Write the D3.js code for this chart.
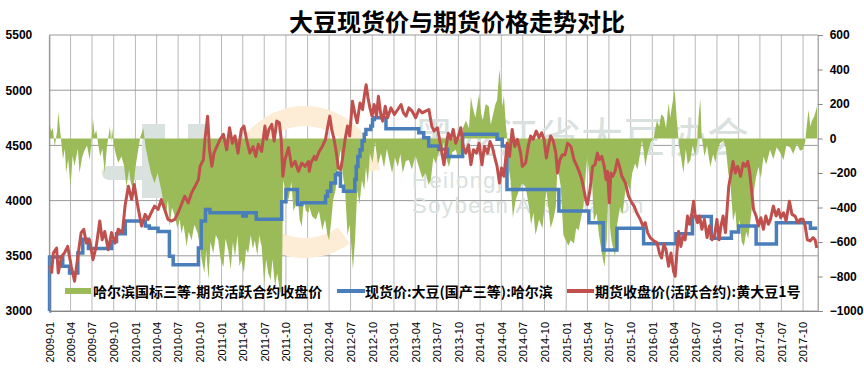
<!DOCTYPE html>
<html>
<head>
<meta charset="utf-8">
<script src="https://cdn.jsdelivr.net/npm/d3@7"></script>
<style>
  body { margin: 0; background: #fff; }
</style>
</head>
<body>
<div id="chart"></div>
<script>

// ---- data ----
var chartTitle = "大豆现货价与期货价格走势对比";
var seriesNames = ["哈尔滨国标三等-期货活跃合约收盘价", "现货价:大豆(国产三等):哈尔滨", "期货收盘价(活跃合约):黄大豆1号"];

var quarterTicks = ["2009-01","2009-04","2009-07","2009-10","2010-01","2010-04","2010-07","2010-10",
  "2011-01","2011-04","2011-07","2011-10","2012-01","2012-04","2012-07","2012-10",
  "2013-01","2013-04","2013-07","2013-10","2014-01","2014-04","2014-07","2014-10",
  "2015-01","2015-04","2015-07","2015-10","2016-01","2016-04","2016-07","2016-10",
  "2017-01","2017-04","2017-07","2017-10"];
var leftTicks = [3000, 3500, 4000, 4500, 5000, 5500];
var rightTicks = [-1000, -800, -600, -400, -200, 0, 200, 400, 600];

// spot price, Harbin (step series: date where the price changes, new price)
var spot = [["2009-01-01",3000],["2009-01-02",3490],["2009-02-27",3405],["2009-03-28",3345],["2009-05-02",3525],
  ["2009-05-23",3650],["2009-06-16",3565],["2009-09-22",3630],["2009-10-13",3700],["2009-11-19",3815],
  ["2010-02-12",3770],["2010-03-01",3750],["2010-04-07",3720],["2010-05-25",3495],["2010-06-10",3420],
  ["2010-09-25",3570],["2010-10-07",3815],["2010-10-25",3920],["2010-11-13",3890],["2011-04-01",3860],
  ["2011-04-16",3890],["2011-05-28",3830],["2011-09-13",3990],["2011-10-01",4100],["2011-11-19",3965],
  ["2011-12-07",3980],["2012-03-17",4040],["2012-03-25",4085],["2012-04-08",4160],["2012-04-28",4235],
  ["2012-05-07",4250],["2012-05-19",4130],["2012-06-01",4085],["2012-07-19",4190],["2012-07-25",4310],
  ["2012-08-01",4400],["2012-08-10",4460],["2012-08-19",4540],["2012-08-28",4600],["2012-09-04",4645],
  ["2012-09-25",4675],["2012-10-02",4735],["2012-10-10",4750],["2012-11-28",4650],["2013-04-16",4615],
  ["2013-05-07",4570],["2013-05-28",4495],["2013-07-10",4465],["2013-08-16",4400],["2013-10-19",4600],
  ["2014-03-14",4555],["2014-04-05",4495],["2014-04-25",4100],["2014-12-01",3905],["2015-04-07",3800],
  ["2015-06-07",3553],["2015-08-04",3750],["2015-11-25",3610],["2016-04-10",3700],["2016-06-19",3855],
  ["2016-09-07",3660],["2016-12-01",3715],["2017-01-01",3770],["2017-03-16",3607],["2017-06-10",3800],
  ["2017-11-01",3750],["2017-11-30",3750]];

// futures close, soybean No.1 active contract
var futures = [["2009-01-02",3405],["2009-01-11",3350],["2009-01-18",3525],["2009-02-01",3570],["2009-02-08",3345],
  ["2009-02-22",3495],["2009-03-06",3525],["2009-03-20",3585],["2009-04-04",3405],["2009-04-18",3270],
  ["2009-05-02",3495],["2009-05-16",3710],["2009-05-27",3740],["2009-06-07",3615],["2009-06-21",3645],
  ["2009-07-05",3465],["2009-07-19",3585],["2009-08-03",3815],["2009-08-13",3645],["2009-08-24",3720],
  ["2009-09-08",3555],["2009-09-22",3710],["2009-10-06",3615],["2009-10-20",3740],["2009-11-07",3710],
  ["2009-11-18",3950],["2009-12-02",4130],["2009-12-16",4010],["2009-12-27",4145],["2010-01-11",3950],
  ["2010-01-27",3770],["2010-02-11",3875],["2010-02-24",3830],["2010-03-09",3890],["2010-03-23",3950],
  ["2010-04-07",3920],["2010-04-21",4010],["2010-05-05",3920],["2010-05-19",3830],["2010-06-03",3815],
  ["2010-06-17",3830],["2010-07-01",3890],["2010-07-15",3965],["2010-07-29",4040],["2010-08-13",3980],
  ["2010-08-27",4070],["2010-09-11",4130],["2010-09-25",4190],["2010-10-02",4310],["2010-10-16",4370],
  ["2010-10-23",4555],["2010-11-03",4765],["2010-11-11",4460],["2010-11-21",4310],["2010-11-30",4430],
  ["2010-12-12",4490],["2010-12-26",4555],["2011-01-09",4600],["2011-01-23",4460],["2011-02-04",4660],
  ["2011-02-16",4520],["2011-02-27",4585],["2011-03-12",4430],["2011-03-26",4645],["2011-04-06",4675],
  ["2011-04-17",4555],["2011-05-01",4430],["2011-05-15",4490],["2011-05-26",4400],["2011-06-06",4510],
  ["2011-06-20",4445],["2011-07-04",4675],["2011-07-11",4555],["2011-07-21",4645],["2011-08-02",4690],
  ["2011-08-12",4540],["2011-08-23",4720],["2011-09-03",4705],["2011-09-11",4555],["2011-09-18",4220],
  ["2011-09-27",4370],["2011-10-12",4480],["2011-10-25",4310],["2011-11-09",4355],["2011-11-23",4265],
  ["2011-12-07",4340],["2011-12-21",4310],["2012-01-05",4355],["2012-01-08",4265],["2012-01-15",4340],
  ["2012-01-29",4400],["2012-02-05",4370],["2012-02-19",4445],["2012-03-03",4490],["2012-03-17",4555],
  ["2012-03-24",4645],["2012-04-04",4765],["2012-04-12",4645],["2012-04-22",4555],["2012-05-02",4430],
  ["2012-05-10",4295],["2012-05-20",4280],["2012-05-27",4370],["2012-06-08",4555],["2012-06-18",4675],
  ["2012-06-27",4585],["2012-07-09",4900],["2012-07-20",4780],["2012-07-29",4705],["2012-08-10",4885],
  ["2012-08-21",4825],["2012-08-28",4945],["2012-09-05",5050],["2012-09-13",4930],["2012-09-21",4840],
  ["2012-09-30",4765],["2012-10-09",4870],["2012-10-19",4765],["2012-10-27",4945],["2012-11-07",4765],
  ["2012-11-14",4720],["2012-11-25",4855],["2012-12-05",4750],["2012-12-19",4840],["2013-01-03",4780],
  ["2013-01-17",4825],["2013-01-31",4870],["2013-02-10",4795],["2013-02-21",4765],["2013-03-05",4840],
  ["2013-03-19",4810],["2013-04-03",4750],["2013-04-17",4825],["2013-05-01",4795],["2013-05-15",4810],
  ["2013-05-29",4825],["2013-06-10",4675],["2013-06-20",4630],["2013-07-04",4660],["2013-07-13",4555],
  ["2013-07-24",4420],["2013-08-01",4325],["2013-08-08",4460],["2013-08-19",4610],["2013-08-29",4555],
  ["2013-09-09",4645],["2013-09-20",4520],["2013-10-01",4585],["2013-10-11",4660],["2013-10-21",4490],
  ["2013-11-02",4430],["2013-11-13",4505],["2013-11-23",4325],["2013-12-04",4460],["2013-12-17",4430],
  ["2013-12-28",4520],["2014-01-09",4325],["2014-01-19",4490],["2014-02-02",4430],["2014-02-12",4535],
  ["2014-02-23",4475],["2014-03-05",4385],["2014-03-14",4310],["2014-03-24",4160],["2014-04-02",4295],
  ["2014-04-12",4220],["2014-04-19",4370],["2014-04-26",4520],["2014-05-06",4400],["2014-05-17",4645],
  ["2014-05-28",4490],["2014-06-08",4555],["2014-06-22",4430],["2014-06-29",4310],["2014-07-13",4340],
  ["2014-07-24",4490],["2014-08-03",4585],["2014-08-14",4555],["2014-08-27",4630],["2014-09-08",4570],
  ["2014-09-19",4615],["2014-09-29",4555],["2014-10-09",4385],["2014-10-17",4490],["2014-10-27",4585],
  ["2014-11-07",4540],["2014-11-18",4430],["2014-11-25",4250],["2014-12-05",4370],["2014-12-16",4415],
  ["2014-12-27",4415],["2015-01-07",4520],["2015-01-21",4490],["2015-02-03",4370],["2015-02-16",4310],
  ["2015-02-27",4250],["2015-03-08",4190],["2015-03-17",4100],["2015-03-25",4010],["2015-04-01",3965],
  ["2015-04-12",4100],["2015-04-23",4310],["2015-05-03",4325],["2015-05-13",4430],["2015-05-21",4370],
  ["2015-06-01",4400],["2015-06-11",4310],["2015-06-19",4190],["2015-06-25",4265],["2015-07-03",3980],
  ["2015-07-09",4250],["2015-07-17",4220],["2015-07-27",4265],["2015-08-06",4370],["2015-08-15",4310],
  ["2015-08-25",4220],["2015-09-09",4160],["2015-09-22",4040],["2015-10-06",3980],["2015-10-16",3950],
  ["2015-10-27",3890],["2015-11-11",3830],["2015-11-22",3770],["2015-12-02",3800],["2015-12-12",3710],
  ["2015-12-23",3665],["2016-01-07",3635],["2016-01-21",3620],["2016-01-31",3525],["2016-02-09",3480],
  ["2016-02-19",3605],["2016-02-28",3555],["2016-03-10",3405],["2016-03-20",3525],["2016-03-31",3360],
  ["2016-04-07",3315],["2016-04-14",3525],["2016-04-21",3720],["2016-05-01",3585],["2016-05-09",3675],
  ["2016-05-19",3645],["2016-05-29",3860],["2016-06-07",3785],["2016-06-17",3890],["2016-06-24",3995],
  ["2016-07-01",3860],["2016-07-11",3800],["2016-07-19",3860],["2016-07-29",3740],["2016-08-09",3830],
  ["2016-08-20",3665],["2016-08-30",3770],["2016-09-10",3645],["2016-09-20",3675],["2016-10-01",3830],
  ["2016-10-10",3645],["2016-10-18",3770],["2016-10-27",3860],["2016-11-06",3710],["2016-11-13",3920],
  ["2016-11-20",4130],["2016-11-30",4250],["2016-12-08",4355],["2016-12-18",4250],["2016-12-28",4310],
  ["2017-01-09",4220],["2017-01-20",4340],["2017-01-30",4310],["2017-02-09",4355],["2017-02-17",4250],
  ["2017-02-26",4070],["2017-03-05",3920],["2017-03-16",3860],["2017-03-26",3770],["2017-04-05",3845],
  ["2017-04-16",3740],["2017-04-26",3860],["2017-05-07",3785],["2017-05-16",3830],["2017-05-28",3950],
  ["2017-06-09",3860],["2017-06-19",3920],["2017-06-28",3845],["2017-07-10",3890],["2017-07-21",3815],
  ["2017-08-04",3995],["2017-08-15",3875],["2017-08-28",3860],["2017-09-09",3800],["2017-09-19",3830],
  ["2017-10-01",3830],["2017-10-10",3770],["2017-10-19",3645],["2017-11-01",3635],["2017-11-12",3665],
  ["2017-11-21",3645],["2017-11-28",3570]];

// basis: Harbin grade-3 minus futures close (right axis)
var basis = [["2009-01-02",90],["2009-01-08",40],["2009-01-16",60],["2009-01-24",-47],["2009-02-03",40],
  ["2009-02-08",155],["2009-02-17",30],["2009-02-28",-120],["2009-03-08",-60],["2009-03-13",-200],
  ["2009-03-22",-120],["2009-04-01",-280],["2009-04-10",-100],["2009-04-18",-160],["2009-05-02",-60],
  ["2009-05-09",-200],["2009-05-20",-110],["2009-05-30",-70],["2009-06-10",-40],["2009-06-21",-125],
  ["2009-06-28",-30],["2009-07-05",117],["2009-07-12",20],["2009-07-19",50],["2009-07-28",-40],
  ["2009-08-05",-105],["2009-08-14",-60],["2009-08-24",-200],["2009-09-02",-50],["2009-09-15",70],
  ["2009-09-20",-20],["2009-09-24",60],["2009-10-02",-40],["2009-10-09",-85],["2009-10-20",-140],
  ["2009-11-03",-105],["2009-11-14",-160],["2009-11-24",-280],["2009-12-05",-180],["2009-12-12",-250],
  ["2009-12-22",-300],["2010-01-02",-160],["2010-01-13",-65],["2010-01-22",10],["2010-02-04",60],
  ["2010-02-12",-40],["2010-02-24",-125],["2010-03-08",-200],["2010-03-23",-260],["2010-04-05",-200],
  ["2010-04-21",-300],["2010-05-01",-380],["2010-05-12",-430],["2010-05-19",-350],["2010-05-26",-510],
  ["2010-06-05",-400],["2010-06-17",-450],["2010-06-28",-520],["2010-07-08",-470],["2010-07-15",-550],
  ["2010-07-24",-500],["2010-08-06",-625],["2010-08-15",-540],["2010-08-27",-590],["2010-09-08",-500],
  ["2010-09-22",-550],["2010-10-01",-620],["2010-10-09",-700],["2010-10-20",-780],["2010-10-28",-650],
  ["2010-11-07",-820],["2010-11-15",-600],["2010-11-27",-665],["2010-12-08",-560],["2010-12-18",-590],
  ["2010-12-28",-700],["2011-01-09",-745],["2011-01-18",-580],["2011-01-30",-650],["2011-02-09",-760],
  ["2011-02-18",-600],["2011-02-27",-685],["2011-03-10",-560],["2011-03-18",-740],["2011-03-26",-705],
  ["2011-04-06",-780],["2011-04-15",-640],["2011-04-24",-665],["2011-05-05",-560],["2011-05-14",-640],
  ["2011-05-22",-590],["2011-06-02",-680],["2011-06-10",-560],["2011-06-20",-625],["2011-07-01",-840],
  ["2011-07-09",-700],["2011-07-18",-780],["2011-07-28",-820],["2011-08-05",-700],["2011-08-16",-860],
  ["2011-08-25",-780],["2011-09-07",-900],["2011-09-14",-850],["2011-09-19",-240],["2011-09-28",-300],
  ["2011-10-12",-355],["2011-10-24",-250],["2011-11-02",-420],["2011-11-09",-395],["2011-11-20",-330],
  ["2011-11-28",-470],["2011-12-07",-510],["2011-12-16",-360],["2011-12-25",-420],["2012-01-05",-430],
  ["2012-01-08",-395],["2012-01-20",-450],["2012-02-05",-470],["2012-02-18",-420],["2012-03-03",-530],
  ["2012-03-15",-470],["2012-03-25",-560],["2012-04-01",-590],["2012-04-10",-480],["2012-04-18",-355],
  ["2012-04-28",-300],["2012-05-06",-200],["2012-05-13",-120],["2012-05-20",-65],["2012-05-28",-200],
  ["2012-06-08",-300],["2012-06-18",-560],["2012-06-27",-500],["2012-07-05",-640],["2012-07-11",-760],
  ["2012-07-20",-590],["2012-07-29",-300],["2012-08-08",-380],["2012-08-18",-240],["2012-08-28",-300],
  ["2012-09-04",-165],["2012-09-12",-260],["2012-09-21",-85],["2012-10-02",-140],["2012-10-13",-20],
  ["2012-10-25",-150],["2012-11-07",-85],["2012-11-20",-170],["2012-12-02",-60],["2012-12-12",-125],
  ["2012-12-24",-200],["2013-01-05",-110],["2013-01-17",-165],["2013-01-28",-90],["2013-02-07",-200],
  ["2013-02-20",-130],["2013-03-05",-125],["2013-03-18",-180],["2013-04-02",-100],["2013-04-17",-165],
  ["2013-05-01",-230],["2013-05-15",-200],["2013-05-28",-270],["2013-06-06",-240],["2013-06-17",-110],
  ["2013-06-27",-145],["2013-07-10",-80],["2013-07-24",-65],["2013-08-01",-20],["2013-08-10",-110],
  ["2013-08-22",-165],["2013-09-05",-80],["2013-09-20",-65],["2013-10-01",-120],["2013-10-11",-85],
  ["2013-10-20",60],["2013-11-02",105],["2013-11-15",60],["2013-11-23",240],["2013-11-30",185],
  ["2013-12-12",120],["2013-12-28",260],["2014-01-05",150],["2014-01-12",105],["2014-01-25",200],
  ["2014-02-07",185],["2014-02-15",80],["2014-02-26",145],["2014-03-07",200],["2014-03-14",220],
  ["2014-03-24",400],["2014-03-28",340],["2014-04-05",185],["2014-04-12",250],["2014-04-19",100],
  ["2014-04-26",-10],["2014-05-03",-180],["2014-05-10",-240],["2014-05-20",-460],["2014-06-01",-355],
  ["2014-06-15",-300],["2014-06-29",-260],["2014-07-13",-280],["2014-07-27",-395],["2014-08-05",-500],
  ["2014-08-15",-430],["2014-08-24",-560],["2014-09-08",-470],["2014-09-22",-520],["2014-10-09",-300],
  ["2014-10-20",-430],["2014-10-27",-520],["2014-11-07",-470],["2014-11-18",-395],["2014-11-25",-160],
  ["2014-12-09",-280],["2014-12-20",-560],["2014-12-30",-590],["2015-01-10",-620],["2015-01-21",-590],
  ["2015-02-03",-610],["2015-02-12",-520],["2015-02-23",-530],["2015-03-05",-460],["2015-03-15",-395],
  ["2015-03-25",-200],["2015-04-01",-100],["2015-04-10",-250],["2015-04-19",-200],["2015-04-28",-480],
  ["2015-05-10",-435],["2015-05-20",-560],["2015-06-01",-665],["2015-06-12",-745],["2015-06-22",-590],
  ["2015-06-30",-250],["2015-07-06",-520],["2015-07-12",-590],["2015-07-20",-640],["2015-07-27",-685],
  ["2015-08-05",-500],["2015-08-17",-395],["2015-08-28",-440],["2015-09-06",-330],["2015-09-15",-260],
  ["2015-09-28",-300],["2015-10-08",-200],["2015-10-20",-145],["2015-10-30",-180],["2015-11-10",-90],
  ["2015-11-18",-10],["2015-11-26",-80],["2015-12-02",-165],["2015-12-10",-100],["2015-12-16",-65],
  ["2015-12-26",-20],["2016-01-07",0],["2016-01-14",60],["2016-01-21",105],["2016-01-30",70],
  ["2016-02-08",140],["2016-02-19",125],["2016-02-28",60],["2016-03-10",205],["2016-03-17",120],
  ["2016-03-24",185],["2016-04-05",280],["2016-04-14",105],["2016-04-24",-50],["2016-05-03",-120],
  ["2016-05-12",-200],["2016-05-22",-60],["2016-05-30",-150],["2016-06-10",-125],["2016-06-20",-40],
  ["2016-07-01",-105],["2016-07-10",-20],["2016-07-15",125],["2016-07-22",230],["2016-07-28",20],
  ["2016-08-09",-105],["2016-08-20",-40],["2016-09-03",-165],["2016-09-15",-90],["2016-09-24",-140],
  ["2016-10-01",-85],["2016-10-12",-30],["2016-10-29",-10],["2016-11-08",-60],["2016-11-18",-200],
  ["2016-11-27",-260],["2016-12-08",-480],["2016-12-18",-420],["2016-12-25",-550],["2017-01-05",-470],
  ["2017-01-14",-600],["2017-01-23",-625],["2017-02-02",-540],["2017-02-10",-580],["2017-02-17",-510],
  ["2017-02-26",-400],["2017-03-07",-300],["2017-03-16",-220],["2017-03-26",-165],["2017-04-05",-230],
  ["2017-04-16",-105],["2017-04-28",-150],["2017-05-14",-65],["2017-05-28",-120],["2017-06-11",-50],
  ["2017-06-25",-80],["2017-07-10",-125],["2017-07-22",-40],["2017-08-07",-50],["2017-08-20",-90],
  ["2017-09-05",-30],["2017-09-18",-70],["2017-09-30",-65],["2017-10-10",-20],["2017-10-17",80],
  ["2017-10-24",165],["2017-11-01",70],["2017-11-08",105],["2017-11-18",130],["2017-11-29",185]];

// ---- layout ----
var W = 864, H = 371;
var plot = {left: 49.3, right: 817.7, top: 35, bottom: 311};
var colors = {basis: "#9bbb59", spot: "#4a7ebb", futures: "#c0504d"};
var cjk = "'Noto Sans CJK SC', sans-serif";
var latin = "'Liberation Sans', Arial, sans-serif";

var parseDay = d3.timeParse("%Y-%m-%d");
var parseMonth = d3.timeParse("%Y-%m");

var x = d3.scaleTime()
    .domain([parseDay("2009-01-01"), parseDay("2017-12-02")])
    .range([plot.left, plot.right]);
var yL = d3.scaleLinear().domain([3000, 5500]).range([plot.bottom, plot.top]);
var yR = d3.scaleLinear().domain([-1000, 600]).range([plot.bottom, plot.top]);

var svg = d3.select("#chart").append("svg")
    .attr("width", W)
    .attr("height", H)
    .style("display", "block");

svg.append("rect").attr("width", W).attr("height", H).attr("fill", "#fff");

// gridlines
var tickDates = quarterTicks.map(function(s) { return parseMonth(s); });
svg.append("g")
    .selectAll("line")
    .data(tickDates)
    .enter().append("line")
    .attr("x1", function(d) { return x(d); })
    .attr("x2", function(d) { return x(d); })
    .attr("y1", plot.top)
    .attr("y2", plot.bottom)
    .attr("stroke", "#b9b9b9")
    .attr("stroke-width", 1);

svg.append("g")
    .selectAll("line")
    .data(leftTicks)
    .enter().append("line")
    .attr("x1", plot.left)
    .attr("x2", plot.right)
    .attr("y1", function(d) { return yL(d); })
    .attr("y2", function(d) { return yL(d); })
    .attr("stroke", "#9a9a9a")
    .attr("stroke-width", 1);

// watermark (association logo, very faint)
var wm = svg.append("g").attr("class", "watermark");
wm.append("path")
    .attr("transform", "translate(305,182)")
    .attr("d", d3.arc().innerRadius(56).outerRadius(76)
        .startAngle(Math.PI * 0.8).endAngle(Math.PI * 2.45)())
    .attr("fill", "#fdecd6");
wm.append("rect").attr("x", 142).attr("y", 124).attr("width", 23).attr("height", 74).attr("fill", "#d9e2df");
wm.append("rect").attr("x", 188).attr("y", 124).attr("width", 18).attr("height", 16).attr("fill", "#d9e2df");
wm.append("rect").attr("x", 102).attr("y", 166).attr("width", 56).attr("height", 14).attr("rx", 7).attr("fill", "#d9e2df");

var wmText = wm.append("text")
    .style("fill", "#d8e1de");
wmText.append("tspan")
    .attr("x", 413).attr("y", 153)
    .style("font-family", cjk)
    .style("font-size", "42px")
    .text("黑龙江省大豆协会");
wmText.append("tspan")
    .attr("x", 412).attr("y", 188)
    .style("font-family", latin)
    .style("font-size", "22px")
    .style("letter-spacing", "1.5px")
    .text("Heilongjiang");
wmText.append("tspan")
    .attr("x", 412).attr("y", 213)
    .style("font-family", latin)
    .style("font-size", "22px")
    .style("letter-spacing", "1.5px")
    .text("Soybean Association");

// basis area
var area = d3.area()
    .x(function(d) { return x(parseDay(d[0])); })
    .y0(yR(0))
    .y1(function(d) { return yR(d[1]); });

svg.append("path")
    .datum(basis)
    .attr("fill", colors.basis)
    .attr("d", area);

// spot (step) and futures lines
var spotLine = d3.line()
    .curve(d3.curveStepAfter)
    .x(function(d) { return x(parseDay(d[0])); })
    .y(function(d) { return yL(d[1]); });

var futLine = d3.line()
    .x(function(d) { return x(parseDay(d[0])); })
    .y(function(d) { return yL(d[1]); });

svg.append("path")
    .datum(spot)
    .attr("fill", "none")
    .attr("stroke", colors.spot)
    .attr("stroke-width", 3.5)
    .attr("d", spotLine);

svg.append("path")
    .datum(futures)
    .attr("fill", "none")
    .attr("stroke", colors.futures)
    .attr("stroke-width", 3)
    .attr("stroke-linejoin", "round")
    .attr("d", futLine);

// axes
var axisColor = "#868686";

var gLeft = svg.append("g")
    .attr("transform", "translate(" + plot.left + ",0)")
    .call(d3.axisLeft(yL).tickValues(leftTicks).tickSize(0).tickPadding(17).tickFormat(d3.format("d")));
gLeft.select(".domain").attr("stroke", axisColor);
gLeft.selectAll("text")
    .style("font-family", latin)
    .style("font-size", "12px")
    .style("font-weight", "bold")
    .style("fill", "#000");

var gRight = svg.append("g")
    .attr("transform", "translate(" + plot.right + ",0)")
    .call(d3.axisRight(yR).tickValues(rightTicks).tickSize(5).tickPadding(7).tickFormat(d3.format("d")));
gRight.select(".domain").attr("stroke", axisColor);
gRight.selectAll(".tick line").attr("stroke", axisColor);
gRight.selectAll("text")
    .style("font-family", latin)
    .style("font-size", "12px")
    .style("font-weight", "bold")
    .style("fill", "#000");

var gBottom = svg.append("g")
    .attr("transform", "translate(0," + plot.bottom + ")")
    .call(d3.axisBottom(x).tickValues(tickDates).tickSize(0).tickFormat(d3.timeFormat("%Y-%m")));
gBottom.select(".domain").attr("stroke", axisColor);
gBottom.selectAll("text")
    .attr("transform", "rotate(-90)")
    .attr("x", -11)
    .attr("y", 0)
    .attr("dy", "0.35em")
    .attr("text-anchor", "end")
    .style("font-family", latin)
    .style("font-size", "11px")
    .style("fill", "#000");

// title
svg.append("text")
    .attr("x", 457)
    .attr("y", 20)
    .attr("dominant-baseline", "central")
    .attr("text-anchor", "middle")
    .style("font-family", cjk)
    .style("font-size", "24px")
    .style("font-weight", "bold")
    .style("fill", "#000")
    .text(chartTitle);

// legend
var legendY = 291;
var legendX = [65, 337, 567];
var legend = svg.append("g");

legend.append("rect")
    .attr("x", legendX[0]).attr("y", legendY - 3)
    .attr("width", 26).attr("height", 6)
    .attr("fill", colors.basis);
legend.append("line")
    .attr("x1", legendX[1]).attr("x2", legendX[1] + 28)
    .attr("y1", legendY).attr("y2", legendY)
    .attr("stroke", colors.spot).attr("stroke-width", 4);
legend.append("line")
    .attr("x1", legendX[2]).attr("x2", legendX[2] + 27)
    .attr("y1", legendY).attr("y2", legendY)
    .attr("stroke", colors.futures).attr("stroke-width", 4);

legend.selectAll("text")
    .data(seriesNames)
    .enter().append("text")
    .attr("x", function(d, i) { return legendX[i] + 28; })
    .attr("y", legendY)
    .attr("dominant-baseline", "central")
    .style("font-family", cjk)
    .style("font-size", "14px")
    .style("font-weight", "bold")
    .style("fill", "#000")
    .text(function(d) { return d; });

</script>
</body>
</html>
